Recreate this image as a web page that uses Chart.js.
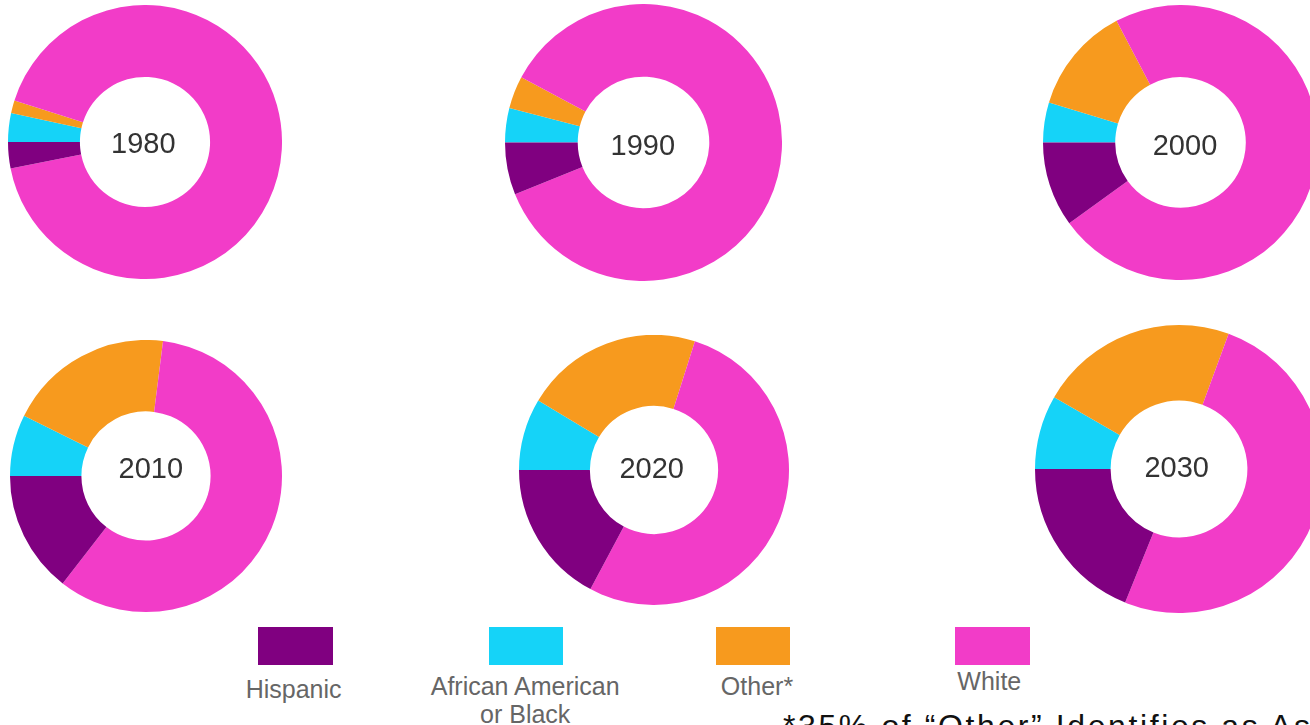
<!DOCTYPE html>
<html>
<head>
<meta charset="utf-8">
<script src="https://cdn.jsdelivr.net/npm/chart.js@4.4.0/dist/chart.umd.min.js"></script>
<style>
  html, body { margin: 0; padding: 0; background: #fff; width: 1310px; height: 725px; overflow: hidden; }
  body { position: relative; font-family: "Liberation Sans", Arial, sans-serif; }
  .pie { position: absolute; }
  .yr { position: absolute; font-size: 29px; line-height: 1; color: #333; transform: translate(-50%, -50%); white-space: nowrap; }
  .box { position: absolute; height: 38px; }
  .lab { position: absolute; font-size: 25px; line-height: 1; color: #666; transform: translateX(-50%); text-align: center; white-space: nowrap; }
  .note { position: absolute; left: 783px; top: 710px; font-size: 32px; line-height: 1; color: #111; letter-spacing: 2.6px; white-space: nowrap; }
</style>
</head>
<body>
<script>
// ---- data (percent of population) ----
const years    = ['1980', '1990', '2000', '2010', '2020', '2030'];
const hispanic = [3.1, 6.1, 10.0, 14.5, 17.2, 18.9];
const black    = [3.4, 4.0, 4.7, 7.3, 8.6, 8.3];
const other    = [1.5, 3.8, 12.6, 19.7, 21.3, 22.3];
const white    = [92.0, 86.1, 72.7, 58.5, 52.9, 50.5];
const categories = ['Hispanic', 'African American\nor Black', 'Other*', 'White'];
const colors = { hispanic: '#800080', black: '#15D3F8', other: '#F79A1E', white: '#F23CC8' };
const footnote = '*35% of \u201cOther\u201d Identifies as Asian';

// ---- layout (positions only) ----
const pies = [
  { cx: 145,   cy: 142,   r: 137 },
  { cx: 643.5, cy: 142,   r: 138.5 },
  { cx: 1180,  cy: 142.5, r: 137.5 },
  { cx: 145.5, cy: 475.5, r: 136 },
  { cx: 653.5, cy: 470,   r: 135 },
  { cx: 1179,  cy: 469,   r: 144 }
];
const yearPos = [[143.3,143.3],[642.8,145],[1185,145],[150.8,468.3],[651.7,468],[1176.7,466.7]];

years.forEach((yr, i) => {
  const p = pies[i];
  const size = Math.round(p.r * 2);
  const div = document.createElement('div');
  div.className = 'pie';
  div.style.left = Math.round(p.cx - size / 2) + 'px';
  div.style.top = Math.round(p.cy - size / 2) + 'px';
  div.style.width = size + 'px';
  div.style.height = size + 'px';
  const cv = document.createElement('canvas');
  cv.width = size; cv.height = size;
  cv.style.width = size + 'px'; cv.style.height = size + 'px';
  div.appendChild(cv);
  document.body.appendChild(div);

  new Chart(cv, {
    type: 'doughnut',
    data: {
      labels: ['African American or Black', 'Other*', 'White', 'Hispanic'],
      datasets: [{
        data: [black[i], other[i], white[i], hispanic[i]],
        backgroundColor: [colors.black, colors.other, colors.white, colors.hispanic],
        borderWidth: 0
      }]
    },
    options: {
      responsive: false,
      animation: false,
      events: [],
      cutout: '47.5%',
      rotation: -90,
      layout: { padding: 0 },
      plugins: { legend: { display: false }, tooltip: { enabled: false }, title: { display: false } }
    }
  });

  const t = document.createElement('div');
  t.className = 'yr';
  t.textContent = yr;
  t.style.left = yearPos[i][0] + 'px';
  t.style.top = yearPos[i][1] + 'px';
  document.body.appendChild(t);
});

// ---- legend ----
const legendBoxes = [
  { x: 258, w: 75, c: colors.hispanic },
  { x: 489, w: 74, c: colors.black },
  { x: 716, w: 74, c: colors.other },
  { x: 955, w: 75, c: colors.white }
];
const legendLabels = [
  { x: 293.6, y: 676.8, lh: 25 },
  { x: 525.2, y: 672.3, lh: 28 },
  { x: 757,   y: 673.8, lh: 25 },
  { x: 989.3, y: 668.8, lh: 25 }
];
categories.forEach((name, i) => {
  const b = document.createElement('div');
  b.className = 'box';
  b.style.left = legendBoxes[i].x + 'px';
  b.style.top = '627px';
  b.style.width = legendBoxes[i].w + 'px';
  b.style.background = legendBoxes[i].c;
  document.body.appendChild(b);
  const l = document.createElement('div');
  l.className = 'lab';
  l.style.left = legendLabels[i].x + 'px';
  l.style.top = legendLabels[i].y + 'px';
  l.style.lineHeight = legendLabels[i].lh + 'px';
  l.innerHTML = name.split('\n').join('<br>');
  document.body.appendChild(l);
});

const n = document.createElement('div');
n.className = 'note';
n.textContent = footnote;
document.body.appendChild(n);
</script>
</body>
</html>
